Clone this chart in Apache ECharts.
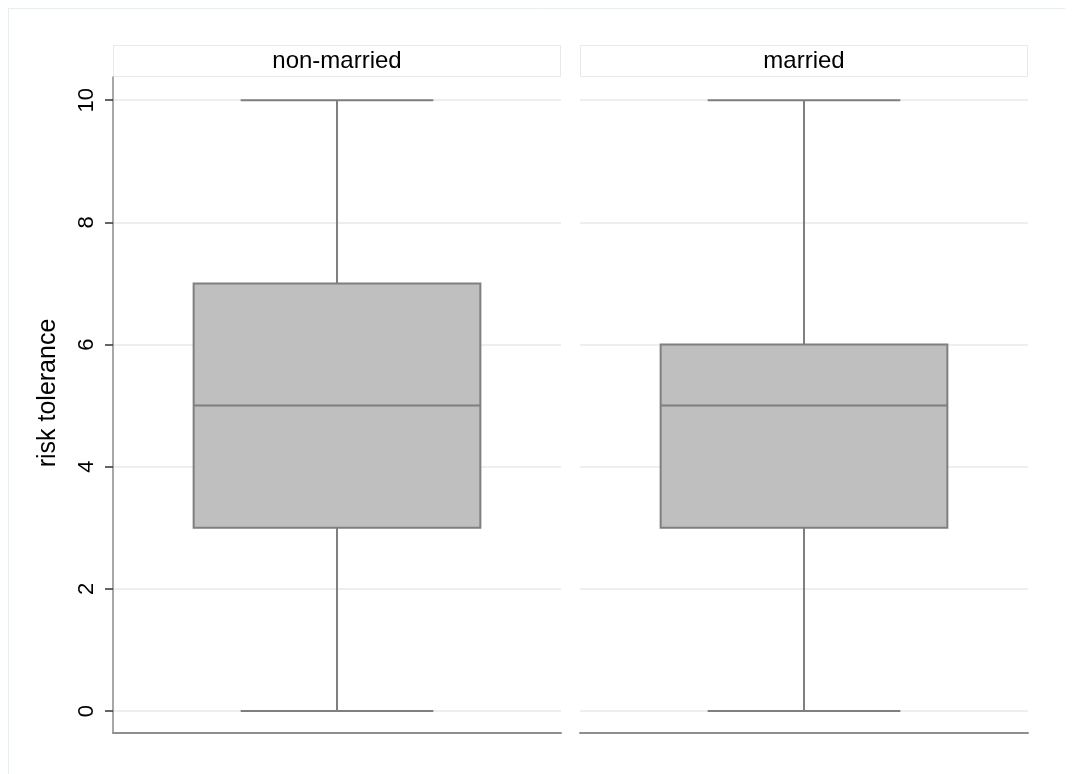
<!DOCTYPE html>
<html>
<head>
<meta charset="utf-8">
<script src="https://cdn.jsdelivr.net/npm/echarts@6/dist/echarts.min.js"></script>
<style>
  html, body { margin: 0; padding: 0; background: #fff; }
  #chart { width: 1073px; height: 774px; }
</style>
</head>
<body>
<div id="chart"></div>
<script>
// Panels (marital status) and their box summaries: [min, q1, median, q3, max]
const panels = ['non-married', 'married'];
const nonMarried = [0, 3, 5, 7, 10];
const married = [0, 3, 5, 6, 10];
const yTicks = [0, 2, 4, 6, 8, 10];
const yTitle = 'risk tolerance';

const FONT = '"Liberation Sans", Arial, Helvetica, sans-serif';
const summaries = [nonMarried, married];

const gridTop = 77, gridH = 656, gridW = 448;
const gridLefts = [113, 580];

function renderBox(params, api) {
  const cx = api.coord([api.value(0), 0])[0];
  const band = api.size([1, 0])[0];
  const half = band * 0.32;
  const capHalf = band * 0.215;
  const yMin = api.coord([0, api.value(1)])[1];
  const yQ1 = api.coord([0, api.value(2)])[1];
  const yMed = api.coord([0, api.value(3)])[1];
  const yQ3 = api.coord([0, api.value(4)])[1];
  const yMax = api.coord([0, api.value(5)])[1];
  const line = { stroke: '#7f7f7f', lineWidth: 2 };
  return {
    type: 'group',
    children: [
      { type: 'line', shape: { x1: cx, y1: yQ3, x2: cx, y2: yMax }, style: line },
      { type: 'line', shape: { x1: cx, y1: yQ1, x2: cx, y2: yMin }, style: line },
      { type: 'line', shape: { x1: cx - capHalf, y1: yMax, x2: cx + capHalf, y2: yMax }, style: line },
      { type: 'line', shape: { x1: cx - capHalf, y1: yMin, x2: cx + capHalf, y2: yMin }, style: line },
      { type: 'rect', shape: { x: cx - half, y: yQ3, width: half * 2, height: yQ1 - yQ3 },
        style: { fill: '#bfbfbf', stroke: '#7f7f7f', lineWidth: 2 } },
      { type: 'line', shape: { x1: cx - half, y1: yMed, x2: cx + half, y2: yMed }, style: line }
    ]
  };
}

const grids = gridLefts.map(l => ({ left: l, top: gridTop, width: gridW, height: gridH }));

const xAxes = panels.map((p, i) => ({
  type: 'category', gridIndex: i, data: [p], boundaryGap: true,
  axisLine: { show: true, onZero: false, lineStyle: { color: '#8f8f8f', width: 2 } },
  axisTick: { show: false }, axisLabel: { show: false }, splitLine: { show: false }
}));

const yAxes = panels.map((p, i) => ({
  type: 'value', gridIndex: i, min: -0.36, max: 10.38, interval: 2,
  axisLine: { show: i === 0, onZero: false, lineStyle: { color: '#8a8a8a', width: 1.5 } },
  axisTick: { show: i === 0, length: 8, lineStyle: { color: '#333', width: 1.5 },
    customValues: yTicks },
  axisLabel: { show: i === 0, rotate: 90, margin: 15, fontFamily: FONT, fontSize: 22, color: '#000',
    customValues: yTicks },
  splitLine: { show: true, lineStyle: { color: '#eeeeee', width: 2 } }
}));

const series = panels.map((p, i) => ({
  type: 'custom', xAxisIndex: i, yAxisIndex: i,
  renderItem: renderBox,
  encode: { x: 0, y: [1, 2, 3, 4, 5] },
  data: [[0].concat(summaries[i])],
  z: 5
}));

const graphic = [
  { type: 'line', shape: { x1: 8, y1: 8.5, x2: 1065, y2: 8.5 }, style: { stroke: '#e6eeee', lineWidth: 1 } },
  { type: 'line', shape: { x1: 8.5, y1: 8, x2: 8.5, y2: 774 }, style: { stroke: '#e6eeee', lineWidth: 1 } },
  // vertical axis title
  { type: 'text', x: 48, y: 393, rotation: Math.PI / 2,
    style: { text: yTitle, fontFamily: FONT, fontSize: 25, fill: '#000', align: 'center', verticalAlign: 'middle' } }
];
panels.forEach((p, i) => {
  graphic.push({
    type: 'rect', shape: { x: gridLefts[i] + 0.5, y: 45.5, width: gridW - 1, height: 31 },
    style: { fill: '#fff', stroke: '#e8e8e8', lineWidth: 1 }
  });
  graphic.push({
    type: 'text', x: gridLefts[i] + gridW / 2, y: 61,
    style: { text: p, fontFamily: FONT, fontSize: 24, fill: '#000', align: 'center', verticalAlign: 'middle' }
  });
});

const chart = echarts.init(document.getElementById('chart'), null, { renderer: 'canvas' });
chart.setOption({
  animation: false,
  backgroundColor: '#fff',
  grid: grids,
  xAxis: xAxes,
  yAxis: yAxes,
  series: series,
  graphic: graphic
});
</script>
</body>
</html>
